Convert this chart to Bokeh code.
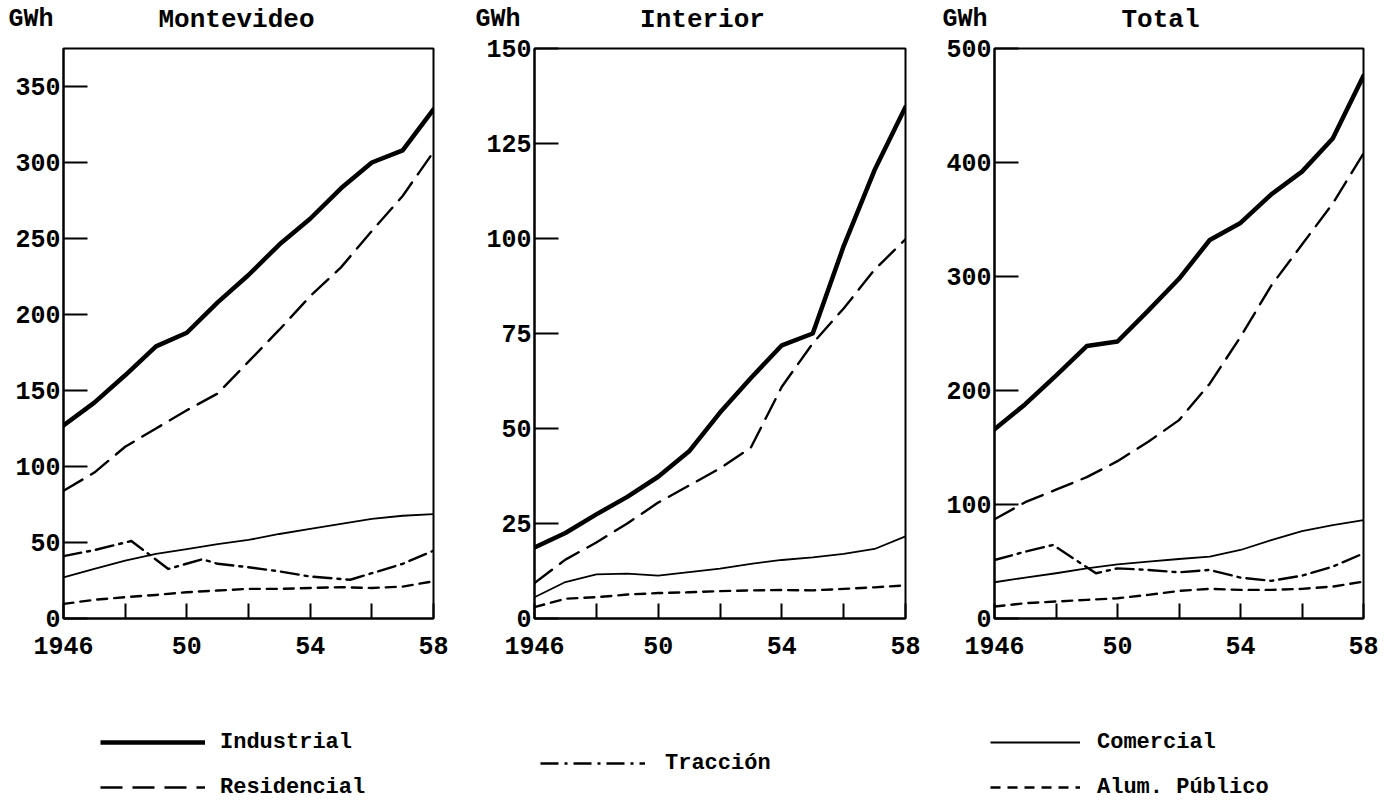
from bokeh.plotting import figure
from bokeh.models import FixedTicker, Label, Legend, LegendItem, Range1d
from bokeh.layouts import row, column
from bokeh.embed import file_html
from bokeh.resources import INLINE

# ---------------- data (GWh) ----------------
years = [1946, 1947, 1948, 1949, 1950, 1951, 1952, 1953, 1954, 1955, 1956, 1957, 1958]

# Montevideo
mvd_industrial = [127, 142, 160, 179, 188, 208, 226, 246, 263, 283, 300, 308, 335]
mvd_residencial = [84, 96, 113, 125, 137, 148, 169, 190, 212, 231, 255, 278, 307]
mvd_comercial = [27, 32.6, 38, 42.5, 45.7, 49, 51.7, 55.6, 58.9, 62.2, 65.5, 67.6, 68.7]
mvd_alumbrado = [9.6, 12.3, 14, 15.5, 17.3, 18.4, 19.5, 19.5, 20.1, 20.6, 20.1, 21, 24.5]
mvd_traccion_years = [1946, 1947, 1948.2, 1949.4, 1950.5, 1951, 1952, 1953, 1954, 1955.3, 1956, 1957, 1958]
mvd_traccion = [41, 45, 51, 32.6, 39, 36, 33.7, 31, 27.6, 25.5, 29.8, 36, 44.6]

# Interior
int_industrial = [18.7, 22.5, 27.4, 32, 37.3, 44, 54.2, 63.3, 71.9, 75, 98, 118, 134.6]
int_residencial = [9.3, 15.5, 20, 25, 30.5, 35, 39.5, 45, 61, 72.4, 81.6, 91.8, 99.8]
int_comercial = [5.6, 9.6, 11.6, 11.8, 11.3, 12.2, 13.1, 14.4, 15.4, 16.1, 17, 18.3, 21.6]
int_alumbrado = [3, 5.2, 5.6, 6.3, 6.7, 6.9, 7.2, 7.4, 7.5, 7.4, 7.8, 8.2, 8.7]

# Total
tot_industrial = [166, 188, 213, 239, 243, 270, 298, 332, 347, 372, 392, 421, 476]
tot_residencial = [87, 102, 113, 124, 138, 155, 174, 206, 247, 292, 328, 364, 408]
tot_comercial = [31.8, 35.9, 39.7, 44, 47.5, 49.9, 52.2, 54.2, 60.1, 68.8, 76.7, 82, 86.3]
tot_alumbrado = [10.5, 13.4, 14.9, 16.3, 17.8, 20.7, 24.2, 26, 25.1, 25.1, 26, 28, 32.4]
tot_traccion_years = [1946, 1947, 1947.9, 1949.3, 1950, 1951, 1952, 1953, 1954, 1955, 1956, 1957, 1958]
tot_traccion = [51.3, 58.6, 64.5, 39.7, 44, 42.6, 40.5, 42.6, 35.9, 33, 37.6, 45.5, 57.1]

panel_titles = ["Montevideo", "Interior", "Total"]
unit_label = "GWh"
x_ticks = [1946, 1948, 1950, 1952, 1954, 1956, 1958]
x_tick_labels = {1946: "1946", 1948: "", 1950: "50", 1952: "", 1954: "54", 1956: "", 1958: "58"}

series_names = ["Industrial", "Residencial", "Tracción", "Comercial", "Alum. Público"]

# ---------------- styles ----------------
FONT = "Liberation Mono"
STY = {
    "Industrial": dict(line_width=4.5, line_dash="solid"),
    "Residencial": dict(line_width=2.4, line_dash="22 10"),
    "Comercial": dict(line_width=1.8, line_dash="solid"),
    "Tracción": dict(line_width=2.4, line_dash="18 6 3 6"),
    "Alum. Público": dict(line_width=2.4, line_dash="10 7"),
}

HEADER_H = 34
FRAME_H = 570
TOP = 14
BOTTOM = 62

# ---------------- header strip (titles) ----------------
ph = figure(width=1390, height=HEADER_H, output_backend="svg", toolbar_location=None,
            x_range=Range1d(0, 1390), y_range=Range1d(0, HEADER_H), min_border=0,
            x_axis_location=None, y_axis_location=None, title=None)
ph.grid.visible = False
ph.outline_line_color = None

title_centers = [236, 702, 1160]
gwh_lefts = [8, 475, 942]
for t, cx, gx in zip(panel_titles, title_centers, gwh_lefts):
    ph.add_layout(Label(x=cx, y=HEADER_H - 19, text=t, text_font=FONT,
                        text_font_size="26px", text_font_style="bold",
                        text_align="center", text_baseline="middle", text_color="black"))
    ph.add_layout(Label(x=gx, y=HEADER_H - 19, text=unit_label, text_font=FONT,
                        text_font_size="25px", text_font_style="bold",
                        text_align="left", text_baseline="middle", text_color="black"))


def make_panel(ymax, ystep, series, width, left, frame_w):
    p = figure(width=width, height=TOP + FRAME_H + BOTTOM,
               x_range=Range1d(1946, 1958), y_range=Range1d(0, ymax),
               output_backend="svg", toolbar_location=None, title=None,
               min_border_left=left, min_border_right=width - left - frame_w,
               min_border_top=TOP, min_border_bottom=BOTTOM)
    p.grid.visible = False
    p.outline_line_color = "black"
    p.outline_line_width = 2
    p.background_fill_color = "white"
    p.border_fill_color = "white"

    xa = p.xaxis[0]
    xa.ticker = FixedTicker(ticks=x_ticks)
    xa.major_label_overrides = x_tick_labels
    xa.major_tick_in = 15
    xa.major_tick_out = 0
    xa.minor_tick_line_color = None
    xa.axis_line_width = 2
    xa.major_tick_line_width = 2
    xa.major_label_standoff = 18
    xa.major_label_text_font = FONT
    xa.major_label_text_font_size = "25px"
    xa.major_label_text_font_style = "bold"
    xa.major_label_text_color = "black"

    ya = p.yaxis[0]
    ya.ticker = FixedTicker(ticks=list(range(0, ymax + 1, ystep)))
    ya.major_tick_in = 24
    ya.major_tick_out = 0
    ya.minor_tick_line_color = None
    ya.axis_line_width = 2
    ya.major_tick_line_width = 2
    ya.major_label_standoff = 3
    ya.major_label_text_font = FONT
    ya.major_label_text_font_size = "25px"
    ya.major_label_text_font_style = "bold"
    ya.major_label_text_color = "black"

    for name, xs, ys in series:
        p.line(xs, ys, line_color="black", line_join="round", line_cap="round", **STY[name])
    return p


p1 = make_panel(375, 50, [
    ("Industrial", years, mvd_industrial),
    ("Residencial", years, mvd_residencial),
    ("Comercial", years, mvd_comercial),
    ("Tracción", mvd_traccion_years, mvd_traccion),
    ("Alum. Público", years, mvd_alumbrado),
], width=463, left=63, frame_w=370)

p2 = make_panel(150, 25, [
    ("Industrial", years, int_industrial),
    ("Residencial", years, int_residencial),
    ("Comercial", years, int_comercial),
    ("Alum. Público", years, int_alumbrado),
], width=463, left=71, frame_w=371)

p3 = make_panel(500, 100, [
    ("Industrial", years, tot_industrial),
    ("Residencial", years, tot_residencial),
    ("Comercial", years, tot_comercial),
    ("Tracción", tot_traccion_years, tot_traccion),
    ("Alum. Público", years, tot_alumbrado),
], width=464, left=68, frame_w=369)

# ---------------- legend strip ----------------
# The legend strip's ranges lie outside the data, so its lines are clipped away
# and only serve as the legend's glyph samples.
pl = figure(width=1390, height=121, output_backend="svg", toolbar_location=None,
            x_range=Range1d(0, 1), y_range=Range1d(0, 1), min_border=0,
            x_axis_location=None, y_axis_location=None, title=None)
pl.grid.visible = False
pl.outline_line_color = None

legend_src = {
    "Industrial": (years, tot_industrial),
    "Residencial": (years, tot_residencial),
    "Tracción": (tot_traccion_years, tot_traccion),
    "Comercial": (years, tot_comercial),
    "Alum. Público": (years, tot_alumbrado),
}
rend = {}
for name in series_names:
    xs, ys = legend_src[name]
    rend[name] = pl.line(xs, ys, line_color="black", **STY[name])


def make_legend(names, loc, gw, standoff):
    return Legend(items=[LegendItem(label=n, renderers=[rend[n]]) for n in names],
                  location=loc, orientation="vertical", glyph_width=gw, glyph_height=26,
                  label_height=26, spacing=19, padding=0, margin=0,
                  border_line_color=None, background_fill_alpha=0,
                  label_standoff=standoff, label_text_font=FONT,
                  label_text_font_size="22px", label_text_font_style="bold",
                  label_text_color="black")


pl.add_layout(make_legend(["Industrial", "Residencial"], (100, 1), 105, 15))
pl.add_layout(make_legend(["Tracción"], (540, 25), 105, 20))
pl.add_layout(make_legend(["Comercial", "Alum. Público"], (990, 1), 90, 17))

layout = column(ph, row(p1, p2, p3, spacing=0), pl, spacing=0)

open("out.html", "w").write(file_html(layout, INLINE))
